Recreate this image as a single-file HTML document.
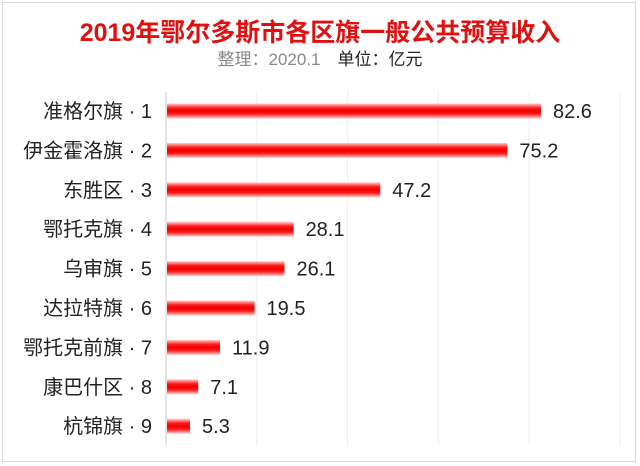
<!DOCTYPE html>
<html><head><meta charset="utf-8"><style>
body{margin:0;width:640px;height:466px;background:#fff;overflow:hidden;font-family:"Liberation Sans","Noto Sans CJK SC",sans-serif}
.frame{position:absolute;left:2px;top:2px;width:634px;height:460px;border:1px solid #d9d9d9;box-sizing:border-box}
</style></head><body>
<div class="frame"></div>
<svg width="640" height="466" style="position:absolute;left:0;top:0">
<defs><linearGradient id="g" x1="0" y1="0" x2="0" y2="1">
<stop offset="0" stop-color="#ffd0d0"/><stop offset="0.3" stop-color="#ff1a1a"/><stop offset="0.5" stop-color="#ee0000"/><stop offset="0.7" stop-color="#ff1a1a"/><stop offset="1" stop-color="#ffd0d0"/></linearGradient></defs>
<text x="320" y="41" text-anchor="middle" font-size="25" font-weight="bold" fill="#e01010" font-family="Liberation Sans,Noto Sans CJK SC,sans-serif">2019年鄂尔多斯市各区旗一般公共预算收入</text>
<text x="320" y="65" text-anchor="middle" font-size="17" font-family="Liberation Sans,Noto Sans CJK SC,sans-serif"><tspan fill="#888">整理：2020.1　</tspan><tspan fill="#222">单位：亿元</tspan></text>
<g id="grid"></g><g id="bars"></g>
</svg>
<script>
const categories=["准格尔旗 · 1","伊金霍洛旗 · 2","东胜区 · 3","鄂托克旗 · 4","乌审旗 · 5","达拉特旗 · 6","鄂托克前旗 · 7","康巴什区 · 8","杭锦旗 · 9"];
const values=[82.6,75.2,47.2,28.1,26.1,19.5,11.9,7.1,5.3];
const gridTicks=[20,40,60,80,100];
const NS="http://www.w3.org/2000/svg";
const x0=166,pxPer=4.54,yTop=92,yBot=445,y1=111,step=39.4,bh=15;
const xs=v=>x0+v*pxPer, ys=i=>y1+i*step;
const grid=document.getElementById('grid'),bars=document.getElementById('bars');
function mk(t,a,p){const e=document.createElementNS(NS,t);for(const k in a)e.setAttribute(k,a[k]);p.appendChild(e);return e;}
gridTicks.forEach(t=>{const l=mk('line',{x1:xs(t),x2:xs(t),y1:yTop,y2:yBot,stroke:'#ececec','stroke-width':1},grid);

});
const ax=mk('line',{x1:x0,x2:x0,y1:yTop,y2:yBot,stroke:'#c8c8c8','stroke-width':1},grid);


categories.forEach((c,i)=>{const y=ys(i);
const r=mk('rect',{x:x0+1,y:y-bh/2,width:xs(values[i])-x0-1,height:bh,fill:'url(#g)'},bars);


const lb=mk('text',{x:152,y:y+7,'text-anchor':'end','font-size':20,fill:'#222'},bars);lb.textContent=c;


const vl=mk('text',{x:xs(values[i])+12,y:y+7,'font-size':20,fill:'#222'},bars);vl.textContent=values[i].toFixed(1);

});
</script>
</body></html>
